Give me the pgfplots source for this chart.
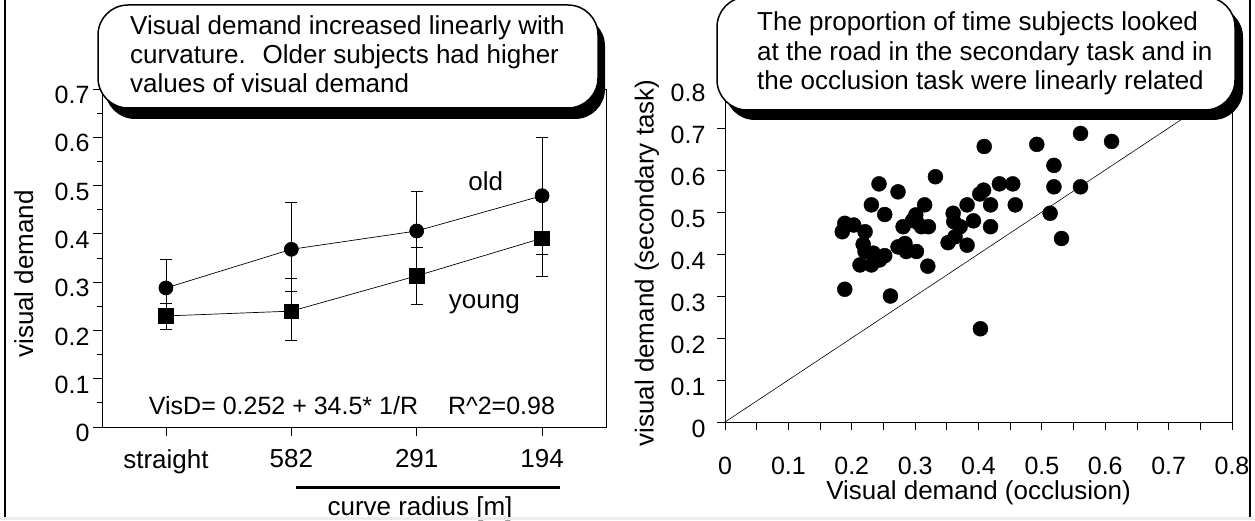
\documentclass[border=0pt]{standalone}
\usepackage{fontspec}
\setmainfont{Liberation Sans}
\usepackage{pgfplots}
\pgfplotsset{compat=1.18}

\newcommand\lblfont{\fontsize{26}{30}\selectfont}
\newcommand\tckfont{\fontsize{25}{30}\selectfont}

\pgfplotsset{
  panel/.style={
    scale only axis, anchor=south west,
    axis line style={line width=1pt},
    tick style={black, line width=0.8pt},
    tick align=outside,
    xtick pos=bottom, ytick pos=left,
    /pgf/number format/assume math mode=true,
    /pgf/number format/fixed,
    label style={font=\lblfont},
  },
}

\begin{document}
\begin{tikzpicture}
\useasboundingbox (0,0) rectangle (1255pt,520pt);

% left panel: visual demand by curve radius
\begin{axis}[panel,
  at={(102pt,93pt)}, width=504pt, height=338pt,
  xmin=-0.51, xmax=3.51, ymin=0, ymax=0.7,
  xtick={0,1,2,3}, xticklabels={straight,582,291,194},
  ytick={0,0.1,0.2,0.3,0.4,0.5,0.6,0.7},
  minor y tick num=1,
  major tick length=9pt, minor tick length=5pt,
  x tick label style={font=\lblfont, yshift=-10pt},
  y tick label style={font=\tckfont, yshift=-6pt},
  ylabel={visual demand},
  ylabel style={at={(axis description cs:-0.155,0.453)}, anchor=center},
  xlabel={curve radius [m]},
  xlabel style={at={(axis description cs:0.631,-0.243)}, anchor=center},
  clip=false,
]
\addplot[black, line width=0.7pt, mark=*, mark size=7pt,
  error bars/.cd, y dir=both, y explicit,
  error bar style={line width=0.7pt},
  error mark options={rotate=90, mark size=6pt, line width=0.7pt}]
  coordinates {(0,0.288) +- (0,0.059)
               (1,0.368) += (0,0.098) -= (0,0.088)
               (2,0.406) +- (0,0.083)
               (3,0.479) +- (0,0.121)};
\addplot[black, line width=0.7pt, mark=square*, mark size=7.25pt,
  error bars/.cd, y dir=both, y explicit,
  error bar style={line width=0.7pt},
  error mark options={rotate=90, mark size=6pt, line width=0.7pt}]
  coordinates {(0,0.230) +- (0,0.027)
               (1,0.240) += (0,0.068) -= (0,0.060)
               (2,0.313) +- (0,0.059)
               (3,0.391) +- (0,0.078)};
\node[font=\lblfont] at (axis cs:2.55,0.509) {old};
\node[font=\lblfont] at (axis cs:2.54,0.255) {young};
\node[font=\tckfont] at (axis cs:1.484,0.0435) {VisD= 0.252 + 34.5* 1/R\hspace{30pt}R\textasciicircum 2=0.98};
\draw[line width=3pt] (axis description cs:0.385,-0.18) -- (axis description cs:0.909,-0.18);
\end{axis}

% right panel: secondary task vs occlusion
\begin{axis}[panel,
  at={(725pt,98pt)}, width=507pt, height=336pt,
  xmin=0, xmax=0.8, ymin=0, ymax=0.8,
  xtick={0,0.1,0.2,0.3,0.4,0.5,0.6,0.7,0.8},
  ytick={0,0.1,0.2,0.3,0.4,0.5,0.6,0.7,0.8},
  minor x tick num=1,
  major tick length=8pt, minor tick length=8pt,
  x tick label style={font=\tckfont, yshift=-24pt},
  y tick label style={font=\tckfont, xshift=-8pt, yshift=-7pt},
  ylabel={visual demand (secondary task)},
  ylabel style={at={(axis description cs:-0.154,0.473)}, anchor=center},
  xlabel={Visual demand (occlusion)},
  xlabel style={at={(axis description cs:0.5,-0.211)}, anchor=center},
]
\addplot[black, line width=0.6pt] coordinates {(0,0) (0.8,0.8)};
\addplot[only marks, mark=*, mark size=7.5pt, black] coordinates {
  (0.189,0.316) (0.261,0.300) (0.403,0.222) (0.185,0.453) (0.189,0.473)
  (0.203,0.469) (0.221,0.453) (0.218,0.423) (0.221,0.406) (0.213,0.374)
  (0.231,0.374) (0.244,0.386) (0.252,0.396) (0.234,0.402) (0.231,0.517)
  (0.243,0.567) (0.252,0.494) (0.273,0.548) (0.332,0.584) (0.281,0.465)
  (0.273,0.417) (0.284,0.425) (0.286,0.406) (0.302,0.406) (0.301,0.493)
  (0.302,0.477) (0.315,0.517) (0.321,0.465) (0.320,0.371) (0.352,0.427)
  (0.363,0.441) (0.360,0.497) (0.361,0.477) (0.371,0.465) (0.382,0.517)
  (0.392,0.479) (0.382,0.421) (0.402,0.543) (0.408,0.552) (0.409,0.656)
  (0.419,0.517) (0.419,0.465) (0.433,0.567) (0.454,0.567) (0.458,0.517)
  (0.492,0.661) (0.519,0.611) (0.519,0.560) (0.513,0.497) (0.531,0.437)
  (0.561,0.687) (0.561,0.560) (0.610,0.668) (0.310,0.465) (0.296,0.480)
};
\end{axis}

% callouts
\fill[black, rounded corners=30pt] (105pt,401pt) rectangle (605pt,504pt);
\draw[line width=1.5pt, fill=white, rounded corners=30pt] (98pt,412pt) rectangle (598pt,515pt);
\node[anchor=base west, inner sep=0pt, font=\lblfont] at (130pt,485pt) {Visual demand increased linearly with};
\node[anchor=base west, inner sep=0pt, font=\lblfont] at (130pt,456pt) {curvature.~ Older subjects had higher};
\node[anchor=base west, inner sep=0pt, font=\lblfont] at (130pt,427pt) {values of visual demand};

\fill[black, rounded corners=30pt] (725pt,400pt) rectangle (1243pt,513pt);
\draw[line width=1.5pt, fill=white, rounded corners=30pt] (717pt,410pt) rectangle (1235pt,523pt);
\node[anchor=base west, inner sep=0pt, font=\lblfont] at (757pt,489pt) {The proportion of time subjects looked};
\node[anchor=base west, inner sep=0pt, font=\lblfont] at (757pt,459pt) {at the road in the secondary task and in};
\node[anchor=base west, inner sep=0pt, font=\lblfont] at (757pt,430pt) {the occlusion task were linearly related};

% figure frame
\draw[line width=2pt] (5pt,0pt) -- (5pt,520pt);
\draw[line width=2.5pt] (1250pt,0pt) -- (1250pt,520pt);
\fill[gray!15] (0pt,0pt) rectangle (1255pt,3.5pt);
\end{tikzpicture}
\end{document}
